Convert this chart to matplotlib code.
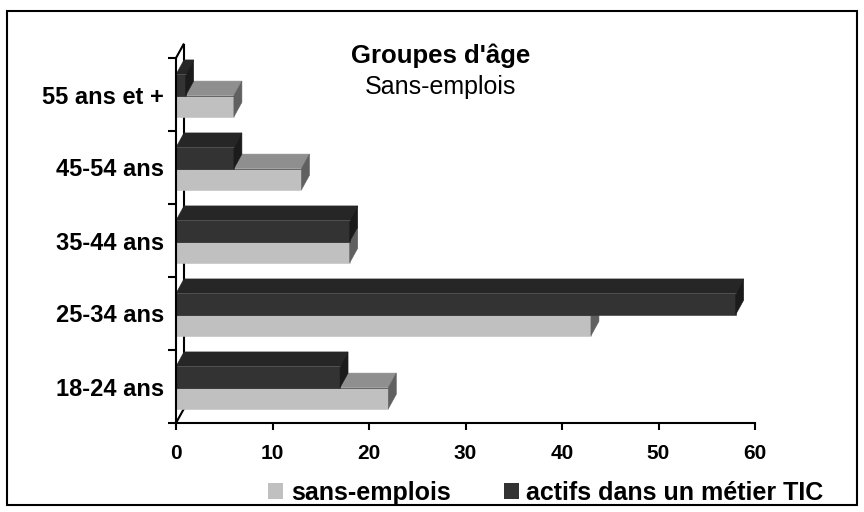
import matplotlib
matplotlib.use("Agg")
import matplotlib.pyplot as plt
from matplotlib.patches import Polygon, Rectangle

plt.rcParams['font.family'] = ['Liberation Sans', 'DejaVu Sans']

categories = ["18-24 ans", "25-34 ans", "35-44 ans", "45-54 ans", "55 ans et +"]
sans_emplois = [22, 43, 18, 13, 6]
actifs_tic = [17, 58, 18, 6, 1]
series_names = ["sans-emplois", "actifs dans un métier TIC"]
xticks = [0, 10, 20, 30, 40, 50, 60]
title = "Groupes d'âge"
subtitle = "Sans-emplois"

W, H = 864, 512
fig = plt.figure(figsize=(W / 100, H / 100), dpi=100)
ax_l, ax_r, ax_t, ax_b = 176, 755, 58, 423
ax = fig.add_axes([ax_l / W, 1 - ax_b / H, (ax_r - ax_l) / W, (ax_b - ax_t) / H])
ax.set_xlim(0, 60)
ax.set_ylim(-0.5, len(categories) - 0.5)

# depth of the pseudo-3D effect in data units
px_per_x = (ax_r - ax_l) / 60.0
px_per_y = (ax_b - ax_t) / len(categories)
dx = 8 / px_per_x
dy = 14.5 / px_per_y

bar_h = 0.29
split_off = -0.015

light = dict(front='#c0c0c0', top='#8f8f8f', side='#606060')
dark = dict(front='#333333', top='#262626', side='#1b1b1b')


def draw_bar(y0, v, cols, z):
    ax.barh(y0, v, height=bar_h, left=0, align='edge', color=cols['front'],
            edgecolor=cols['front'], linewidth=0.4, zorder=z)
    y1 = y0 + bar_h
    top = Polygon([(0, y1), (v, y1), (v + dx, y1 + dy), (dx, y1 + dy)],
                  closed=True, facecolor=cols['top'], edgecolor=cols['top'],
                  linewidth=0.4, zorder=z, clip_on=False)
    side = Polygon([(v, y0), (v + dx, y0 + dy), (v + dx, y1 + dy), (v, y1)],
                   closed=True, facecolor=cols['side'], edgecolor=cols['side'],
                   linewidth=0.4, zorder=z, clip_on=False)
    ax.add_patch(top)
    ax.add_patch(side)
    ax.plot([0, v], [y1, y1], color='#555555', lw=0.6, zorder=z + 0.001,
            solid_capstyle='butt')


for i in range(len(categories) - 1, -1, -1):
    split = i + split_off
    draw_bar(split - bar_h, sans_emplois[i], light, 2 + (len(categories) - i) * 0.01)
    draw_bar(split, actifs_tic[i], dark, 3 + (len(categories) - i) * 0.01)

# back wall edge lines
ylo, yhi = -0.5, len(categories) - 0.5
ax.plot([0, dx], [yhi, yhi + dy], color='black', lw=1.5, clip_on=False, zorder=1.5,
        solid_capstyle='butt')
ax.plot([0, dx], [ylo, ylo + dy], color='black', lw=1.5, clip_on=False, zorder=1.5,
        solid_capstyle='butt')
ax.plot([dx, dx], [ylo + dy, yhi + dy], color='black', lw=1.5, clip_on=False, zorder=1.5,
        solid_capstyle='butt')

# spines
for s in ['top', 'right']:
    ax.spines[s].set_visible(False)
for s in ['left', 'bottom']:
    ax.spines[s].set_linewidth(1.5)
    ax.spines[s].set_color('black')
    ax.spines[s].set_zorder(5)

ax.set_xticks(xticks)
ax.set_xticklabels([str(t) for t in xticks], fontsize=15, fontweight='bold')
ax.tick_params(axis='x', direction='out', length=5, width=1.5, pad=10)

ax.set_yticks(range(len(categories)))
ax.set_yticklabels(categories, fontsize=17, fontweight='bold')
ax.tick_params(axis='y', which='major', length=0, pad=8.5)
ax.set_yticks([k - 0.5 for k in range(len(categories) + 1)], minor=True)
ax.tick_params(axis='y', which='minor', direction='out', length=5.8, width=1.5)

ax.patch.set_visible(False)

fig.text(441 / W, 1 - 63 / H, title, fontsize=18.5, fontweight='bold',
         ha='center', va='baseline')
fig.text(441 / W, 1 - 94 / H, subtitle, fontsize=18, ha='center', va='baseline')

handles = [Rectangle((0, 0), 1, 1, facecolor=light['front'], edgecolor='none'),
           Rectangle((0, 0), 1, 1, facecolor=dark['front'], edgecolor='none')]
fig.legend(handles, series_names, loc='center', bbox_to_anchor=(546 / W, 1 - 493 / H),
           ncol=2, frameon=False, handlelength=0.6, handleheight=0.6,
           handletextpad=0.32, columnspacing=2.1, borderpad=0, borderaxespad=0,
           prop={'size': 18, 'weight': 'bold'})

# outer frame
fig.patches.append(Rectangle((7 / W, 1 - 505 / H), (857 - 7) / W, (505 - 11) / H,
                             transform=fig.transFigure, fill=False,
                             edgecolor='black', linewidth=1.5))

fig.savefig('out.png', dpi=100)
